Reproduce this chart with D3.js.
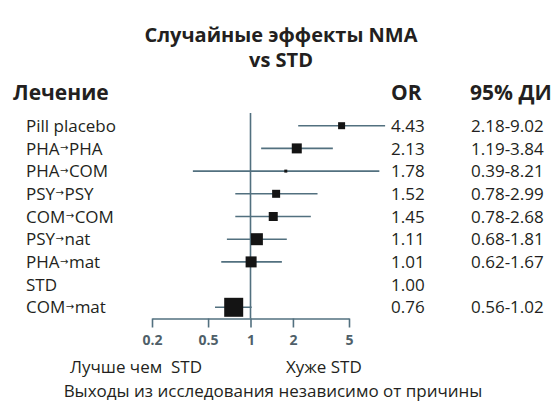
<!DOCTYPE html>
<html><head><meta charset="utf-8">
<script src="https://cdn.jsdelivr.net/npm/d3@7"></script>
<style>html,body{margin:0;padding:0;background:#fff;}svg{display:block;font-family:"Open Sans",sans-serif;}</style>
</head><body>
<script>
const treatments = ["Pill placebo","PHA\u2192PHA","PHA\u2192COM","PSY\u2192PSY","COM\u2192COM","PSY\u2192nat","PHA\u2192mat","STD","COM\u2192mat"];
const orValues = [4.43,2.13,1.78,1.52,1.45,1.11,1.01,1.00,0.76];
const ciLow = [2.18,1.19,0.39,0.78,0.78,0.68,0.62,null,0.56];
const ciHigh = [9.02,3.84,8.21,2.99,2.68,1.81,1.67,null,1.02];
const weights = [7,10,3,8,9,12,11,0,19];
const orLabels = ["4.43","2.13","1.78","1.52","1.45","1.11","1.01","1.00","0.76"];
const ciLabels = ["2.18-9.02","1.19-3.84","0.39-8.21","0.78-2.99","0.78-2.68","0.68-1.81","0.62-1.67","","0.56-1.02"];
const tickValues = [0.2,0.5,1,2,5];
const tickLabels = ["0.2","0.5","1","2","5"];

const W = 557, H = 405;
const svg = d3.select("body").append("svg").attr("width", W).attr("height", H);

const x = d3.scaleLog().domain([0.2, 5]).range([152, 349]);
const y = d3.scalePoint().domain(treatments).range([125.7, 307.3]);
const size = d3.scaleLinear().domain([0, 20]).range([0, 20]);
const lineColor = "#52707f";
const textColor = "#231f20";

// Titles
svg.append("text").attr("x", 281).attr("y", 42).attr("text-anchor", "middle")
  .attr("font-weight", 700).attr("font-size", 20).attr("fill", textColor).text("Случайные эффекты NMA");
svg.append("text").attr("x", 281).attr("y", 67).attr("text-anchor", "middle")
  .attr("font-weight", 700).attr("font-size", 20).attr("fill", textColor).text("vs STD");
// Headers
const hy = 100;
svg.append("text").attr("x", 13).attr("y", hy).attr("font-weight", 700).attr("font-size", 21).attr("fill", textColor).text("Лечение");
svg.append("text").attr("x", 391).attr("y", hy).attr("font-weight", 700).attr("font-size", 21).attr("fill", textColor).text("OR");
svg.append("text").attr("x", 470).attr("y", hy).attr("font-weight", 700).attr("font-size", 21).attr("fill", textColor).text("95% ДИ");

// Row text (arrow drawn as a small raised glyph)
const rows = svg.append("g");
treatments.forEach((t, i) => {
  const yy = y(t);
  const lbl = rows.append("text").attr("x", 26).attr("y", yy).attr("dy", "0.36em").attr("font-size", 17).attr("fill", textColor);
  const parts = t.split("\u2192");
  if (parts.length === 2) {
    lbl.append("tspan").text(parts[0]);
    lbl.append("tspan").attr("font-family", "DejaVu Sans").attr("font-size", 10).attr("dy", -3.5).attr("dx", 0.5).text("\u2192");
    lbl.append("tspan").attr("dy", 3.5).attr("dx", 0.5).text(parts[1]);
  } else {
    lbl.text(t);
  }
  rows.append("text").attr("x", 391).attr("y", yy).attr("dy", "0.36em").attr("font-size", 17).attr("fill", textColor).text(orLabels[i]);
  if (ciLabels[i]) rows.append("text").attr("x", 471).attr("y", yy).attr("dy", "0.36em").attr("font-size", 17).attr("fill", textColor).text(ciLabels[i]);
});

// Axis
const axisY = 318.5;
const axis = svg.append("g").attr("transform", `translate(0,${axisY})`)
  .call(d3.axisBottom(x).tickValues(tickValues).tickFormat((d, i) => tickLabels[i]).tickSize(9).tickSizeOuter(0).tickPadding(8));
axis.select(".domain").attr("stroke", lineColor).attr("stroke-width", 1.6);
axis.selectAll(".tick line").attr("stroke", lineColor).attr("stroke-width", 1.6);
axis.selectAll(".tick text").attr("font-family", "Open Sans, sans-serif").attr("font-size", 14).attr("font-weight", 700).attr("fill", "#4f5f69");

// Reference line
svg.append("line").attr("x1", x(1)).attr("x2", x(1)).attr("y1", 113).attr("y2", axisY)
  .attr("stroke", lineColor).attr("stroke-width", 1.6);

// CI lines and squares
treatments.forEach((t, i) => {
  const yy = y(t);
  if (ciLow[i] != null) {
    svg.append("line").attr("x1", x(ciLow[i])).attr("x2", x(ciHigh[i])).attr("y1", yy).attr("y2", yy)
      .attr("stroke", lineColor).attr("stroke-width", 1.6);
  }
  const s = size(weights[i]);
  if (s > 0) {
    svg.append("rect").attr("x", x(orValues[i]) - s / 2).attr("y", yy - s / 2).attr("width", s).attr("height", s).attr("fill", "#141414");
  }
});

// Bottom labels
svg.append("text").attr("x", 70).attr("y", 373).attr("font-size", 17).attr("fill", textColor).style("white-space", "pre").text("Лучше чем  STD");
svg.append("text").attr("x", 286).attr("y", 373).attr("font-size", 17).attr("fill", textColor).text("Хуже STD");
svg.append("text").attr("x", 273).attr("y", 397).attr("text-anchor", "middle").attr("font-size", 17).attr("fill", textColor).text("Выходы из исследования независимо от причины");
</script>
</body></html>
